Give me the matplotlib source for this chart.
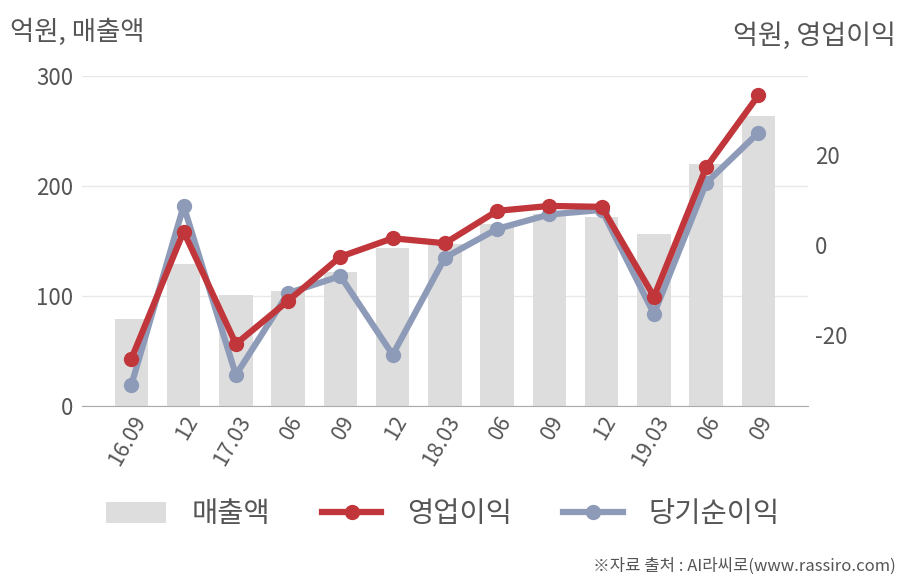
import matplotlib.pyplot as plt
from matplotlib.patches import Patch
from matplotlib.lines import Line2D

plt.rcParams['font.family'] = ['Noto Sans CJK KR', 'DejaVu Sans']
plt.rcParams['axes.unicode_minus'] = False

# 분기 라벨
quarters = ['16.09', '12', '17.03', '06', '09', '12', '18.03', '06', '09', '12', '19.03', '06', '09']
# 매출액 (억원)
sales = [79, 129, 101, 104.5, 122, 144, 147, 165, 174.5, 172, 156, 220, 264]
# 영업이익 (억원)
op_profit = [-25.3, 3.0, -22.0, -12.4, -2.6, 1.5, 0.4, 7.6, 8.7, 8.5, -11.5, 17.3, 33.3]
# 당기순이익 (억원)
net_profit = [-31.1, 8.7, -28.9, -10.7, -6.9, -24.4, -2.8, 3.6, 6.8, 7.8, -15.3, 13.8, 25.0]

text_col = '#555555'
bar_col = '#dddddd'
red = '#c1363a'
blue = '#8e9bb8'

fig = plt.figure(figsize=(9.08, 5.80), dpi=100)
ax = fig.add_axes([0.090, 0.300, 0.800, 0.569])
ax2 = ax.twinx()

x = list(range(len(quarters)))
ax.bar(x, sales, width=0.64, color=bar_col, zorder=2)
ax.set_ylim(0, 300)
ax.set_yticks([0, 100, 200, 300])
ax.set_xlim(-0.95, 12.95)
ax.grid(axis='y', color='#e8e8e8', linewidth=1, zorder=0)
ax.set_axisbelow(True)
for s in ['top', 'right', 'left']:
    ax.spines[s].set_visible(False)
ax.spines['bottom'].set_color('#aaaaaa')
ax.tick_params(axis='y', length=0, labelsize=16, labelcolor=text_col, pad=6)
ax.tick_params(axis='x', length=0, labelsize=15.5, labelcolor=text_col, pad=4)
ax.set_xticks(x)
ax.set_xticklabels(quarters, rotation=60, ha='right', va='top', rotation_mode='anchor')

ax2.plot(x, net_profit, color=blue, linewidth=4.5, marker='o', markersize=10, zorder=3)
ax2.plot(x, op_profit, color=red, linewidth=4.5, marker='o', markersize=10, zorder=4)
ax2.set_ylim(-35.8, 37.6)
ax2.set_yticks([-20, 0, 20])
for s in ['top', 'right', 'left', 'bottom']:
    ax2.spines[s].set_visible(False)
ax2.tick_params(axis='y', length=0, labelsize=16, labelcolor=text_col, pad=5)

fig.text(0.011, 0.945, '억원, 매출액', fontsize=19, color=text_col, ha='left', va='center')
fig.text(0.987, 0.938, '억원, 영업이익', fontsize=19.5, color=text_col, ha='right', va='center')
fig.text(0.986, 0.024, '※자료 출처 : AI라씨로(www.rassiro.com)', fontsize=12, color=text_col,
         ha='right', va='center')

handles = [
    Patch(facecolor=bar_col, edgecolor='none'),
    Line2D([], [], color=red, linewidth=4.5, marker='o', markersize=10),
    Line2D([], [], color=blue, linewidth=4.5, marker='o', markersize=10),
]
fig.legend(handles, ['매출액', '영업이익', '당기순이익'], loc='center', bbox_to_anchor=(0.488, 0.113),
           ncol=3, frameon=False, fontsize=20.5, labelcolor=text_col, handlelength=2.1,
           handleheight=0.75, columnspacing=1.8, handletextpad=0.9)

fig.savefig('out.png', dpi=100)
